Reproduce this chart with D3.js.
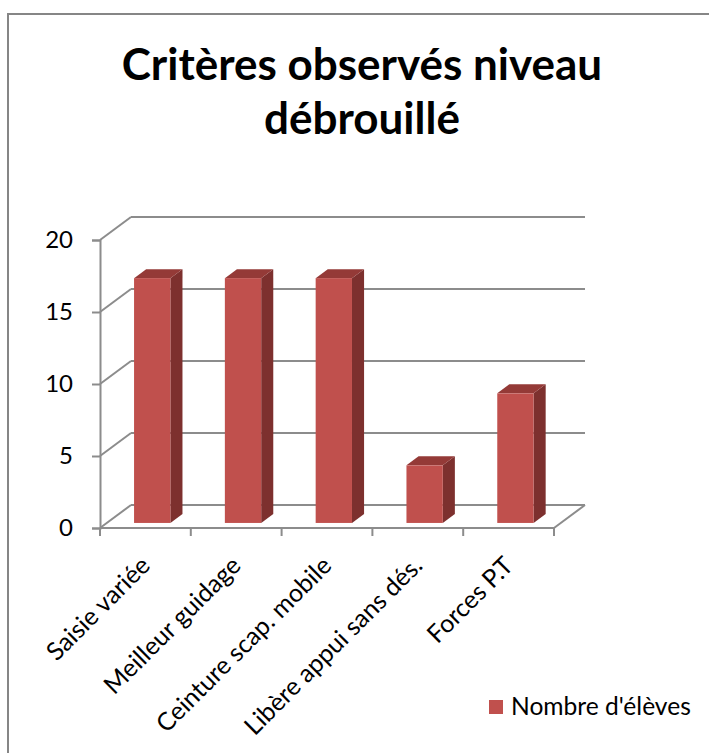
<html lang="fr">
<head>
    <meta charset="UTF-8">
    <script type="text/javascript" src="https://cdn.jsdelivr.net/npm/d3@7"></script>
    <title>Critères observés niveau débrouillé</title>
    <style>
        body { margin: 0; background: #fff; }
    </style>
</head>
<body>
    <script type="text/javascript">

        // data
        var categories = ["Saisie variée", "Meilleur guidage", "Ceinture scap. mobile", "Libère appui sans dés.", "Forces P.T"];
        var values = [17, 17, 17, 4, 9];
        var yTicks = [0, 5, 10, 15, 20];
        var seriesName = "Nombre d'élèves";
        var titleLines = ["Critères observés niveau", "débrouillé"];

        var w = 709;
        var h = 753;
        var font = "Lato, Carlito, 'Open Sans', sans-serif";

        // 3d offset of the back wall
        var depthX = 31;
        var depthY = -23;
        var barZ0 = 0.22, barZ1 = 0.61;

        var gridColor = "#8c8c8c";
        var frontColor = "#c0504d";
        var sideColor = "#7d302e";
        var topColor = "#943a37";

        var xScale = d3.scaleBand()
            .domain(categories)
            .range([100, 554]);

        var yScale = d3.scaleLinear()
            .domain([0, 20])
            .range([528, 240]);

        var svg = d3.select("body")
            .append("svg")
            .attr("width", w)
            .attr("height", h);

        // chart border
        svg.append("rect")
            .attr("x", 8)
            .attr("y", 14)
            .attr("width", w + 20)
            .attr("height", h + 20)
            .attr("fill", "none")
            .attr("stroke", "#868686")
            .attr("stroke-width", 2);

        // title
        svg.append("text")
            .attr("text-anchor", "middle")
            .attr("font-family", font)
            .attr("font-weight", "bold")
            .attr("font-size", "44px")
            .attr("fill", "#000")
            .selectAll("tspan")
            .data(titleLines)
            .enter()
            .append("tspan")
            .attr("x", 362)
            .attr("y", function (d, i) { return 80 + i * 54; })
            .text(function (d) { return d; });

        var x0 = xScale.range()[0], x1 = xScale.range()[1];

        // back wall gridlines + side wall diagonals
        var grid = svg.append("g")
            .attr("stroke", gridColor)
            .attr("stroke-width", 2)
            .attr("fill", "none");

        grid.selectAll("line.back")
            .data(yTicks)
            .enter()
            .append("line")
            .attr("class", "back")
            .attr("x1", x0 + depthX)
            .attr("x2", x1 + depthX)
            .attr("y1", function (d) { return yScale(d) + depthY; })
            .attr("y2", function (d) { return yScale(d) + depthY; });

        grid.selectAll("line.side")
            .data(yTicks)
            .enter()
            .append("line")
            .attr("class", "side")
            .attr("x1", x0)
            .attr("x2", x0 + depthX)
            .attr("y1", function (d) { return yScale(d); })
            .attr("y2", function (d) { return yScale(d) + depthY; });

        // floor right edge
        grid.append("line")
            .attr("x1", x1)
            .attr("x2", x1 + depthX)
            .attr("y1", yScale(0))
            .attr("y2", yScale(0) + depthY);

        // bars (side, top, front)
        var bw = xScale.bandwidth() * 0.4;
        var bars = svg.append("g")
            .selectAll("g")
            .data(values)
            .enter()
            .append("g");

        function barLeft(d, i) {
            return xScale(categories[i]) + (xScale.bandwidth() - bw) / 2 + depthX * barZ0;
        }
        function barBase() { return yScale(0) + depthY * barZ0; }
        function barTop(d) { return yScale(d) + depthY * barZ0; }
        var ddx = depthX * (barZ1 - barZ0), ddy = depthY * (barZ1 - barZ0);

        bars.append("path")
            .attr("fill", sideColor)
            .attr("d", function (d, i) {
                var l = barLeft(d, i) + bw, t = barTop(d), b = barBase();
                return "M" + l + "," + b + "L" + l + "," + t + "L" + (l + ddx) + "," + (t + ddy) +
                    "L" + (l + ddx) + "," + (b + ddy) + "Z";
            });

        bars.append("path")
            .attr("fill", topColor)
            .attr("d", function (d, i) {
                var l = barLeft(d, i), t = barTop(d);
                return "M" + l + "," + t + "L" + (l + bw) + "," + t + "L" + (l + bw + ddx) + "," + (t + ddy) +
                    "L" + (l + ddx) + "," + (t + ddy) + "Z";
            });

        bars.append("rect")
            .attr("fill", frontColor)
            .attr("x", barLeft)
            .attr("y", function (d) { return barTop(d); })
            .attr("width", bw)
            .attr("height", function (d) { return barBase() - barTop(d); });

        // front y axis
        var yAxis = d3.axisLeft(yScale)
            .tickValues(yTicks)
            .tickSize(8)
            .tickPadding(19);

        var yg = svg.append("g")
            .attr("transform", "translate(" + x0 + ",0)")
            .call(yAxis);
        yg.select(".domain").attr("stroke", gridColor).attr("stroke-width", 2);
        yg.selectAll(".tick line").attr("stroke", gridColor).attr("stroke-width", 2);
        yg.selectAll(".tick text")
            .attr("font-family", font)
            .attr("font-size", "24px")
            .attr("fill", "#000");

        // front x axis
        var edges = categories.map(function (c) { return xScale(c); }).concat([x1]);
        var xg = svg.append("g")
            .attr("stroke", gridColor)
            .attr("stroke-width", 2);
        xg.append("line")
            .attr("x1", x0).attr("x2", x1)
            .attr("y1", yScale(0)).attr("y2", yScale(0));
        xg.selectAll("line.tick")
            .data(edges)
            .enter()
            .append("line")
            .attr("class", "tick")
            .attr("x1", function (d) { return d; })
            .attr("x2", function (d) { return d; })
            .attr("y1", yScale(0))
            .attr("y2", yScale(0) + 8);

        svg.append("g")
            .selectAll("text")
            .data(categories)
            .enter()
            .append("text")
            .text(function (d) { return d; })
            .attr("transform", function (d) {
                return "translate(" + (xScale(d) + xScale.bandwidth() / 2) + "," + 561 + ") rotate(-45)";
            })
            .attr("text-anchor", "end")
            .attr("dy", "0.35em")
            .attr("font-family", font)
            .attr("font-size", "25px")
            .attr("fill", "#000");

        // legend
        var legend = svg.append("g");
        legend.append("rect")
            .attr("x", 489)
            .attr("y", 700)
            .attr("width", 14)
            .attr("height", 14)
            .attr("fill", frontColor);
        legend.append("text")
            .attr("x", 511)
            .attr("y", 715)
            .attr("font-family", font)
            .attr("font-size", "24.6px")
            .attr("fill", "#000")
            .text(seriesName);
    </script>
</body>
</html>
